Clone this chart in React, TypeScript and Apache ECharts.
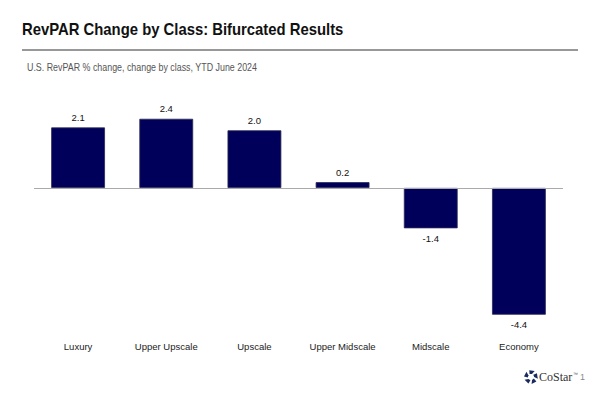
import React, { useEffect, useRef } from "react";
import * as echarts from "echarts";

const categories = ["Luxury", "Upper Upscale", "Upscale", "Upper Midscale", "Midscale", "Economy"];
const values = [2.1, 2.4, 2.0, 0.2, -1.4, -4.4];
const title = "RevPAR Change by Class: Bifurcated Results";
const subtitle = "U.S. RevPAR % change, change by class, YTD June 2024";

export default function App() {
  const ref = useRef<HTMLDivElement>(null);
  useEffect(() => {
    const chart = echarts.init(ref.current!, null, { renderer: "svg" });
    const font = "'Liberation Sans', Arial, sans-serif";
    const petals: any[] = [];
    const cx = 531, cy = 377;
    for (let i = 0; i < 5; i++) {
      const a = (i / 5) * Math.PI * 2 - Math.PI / 2;
      const a1 = a - 0.45, a2 = a + 0.45;
      const r1 = 3.2, r2 = 7;
      petals.push({
        type: "polygon",
        shape: {
          points: [
            [cx + Math.cos(a1) * r1, cy + Math.sin(a1) * r1],
            [cx + Math.cos(a1 + 0.2) * r2, cy + Math.sin(a1 + 0.2) * r2],
            [cx + Math.cos(a2 + 0.1) * r2, cy + Math.sin(a2 + 0.1) * r2],
            [cx + Math.cos(a2 - 0.15) * r1, cy + Math.sin(a2 - 0.15) * r1],
          ],
        },
        style: { fill: "#1b2a5e" },
      });
    }
    chart.setOption({
      animation: false,
      backgroundColor: "#ffffff",
      grid: { left: 34, right: 37, top: 101.5, bottom: 400 - 332 },
      xAxis: {
        type: "category",
        data: categories,
        axisLine: { show: false },
        axisTick: { show: false },
        axisLabel: { color: "#222", fontSize: 9.5, fontFamily: font, margin: 9 },
      },
      yAxis: {
        type: "value",
        min: -5,
        max: 3,
        show: false,
        splitLine: { show: false },
      },
      graphic: [
        { type: "text", x: 22, y: 21, scaleX: 0.9, style: { text: title, fontSize: 16.5, fontWeight: "bold", fill: "#111", fontFamily: font } },
        { type: "line", shape: { x1: 22, y1: 50, x2: 578, y2: 50 }, style: { stroke: "#333", lineWidth: 1.2 } },
        { type: "text", x: 27, y: 62, scaleX: 0.845, style: { text: subtitle, fontSize: 10.5, fill: "#555", fontFamily: font } },
        ...petals,
        { type: "text", x: 539, y: 371, style: { text: "CoStar", fontSize: 12, fill: "#333", fontFamily: "'Liberation Serif', serif" } },
        { type: "text", x: 573, y: 371, style: { text: "™", fontSize: 5, fill: "#555", fontFamily: font } },
        { type: "text", x: 580, y: 372, style: { text: "1", fontSize: 9, fill: "#888", fontFamily: font } },
      ],
      series: [
        {
          type: "bar",
          data: values.map((v) => ({
            value: v,
            label: { position: v < 0 ? "bottom" : "top" },
          })),
          barCategoryGap: "39%",
          itemStyle: { color: "#00005a", borderColor: "#2a2a55", borderWidth: 0.8 },
          label: {
            show: true,
            position: "top",
            distance: 5,
            color: "#111",
            fontSize: 9.5,
            fontFamily: font,
            formatter: (p: any) => Number(p.value).toFixed(1),
          },
          markLine: {
            silent: true,
            symbol: "none",
            label: { show: false },
            lineStyle: { color: "#aaa", width: 1, type: "solid" },
            data: [{ yAxis: 0 }],
          },
        },
      ],
    });
    return () => chart.dispose();
  }, []);
  return <div ref={ref} style={{ width: 600, height: 400, position: "absolute", left: 0, top: 0 }} />;
}
